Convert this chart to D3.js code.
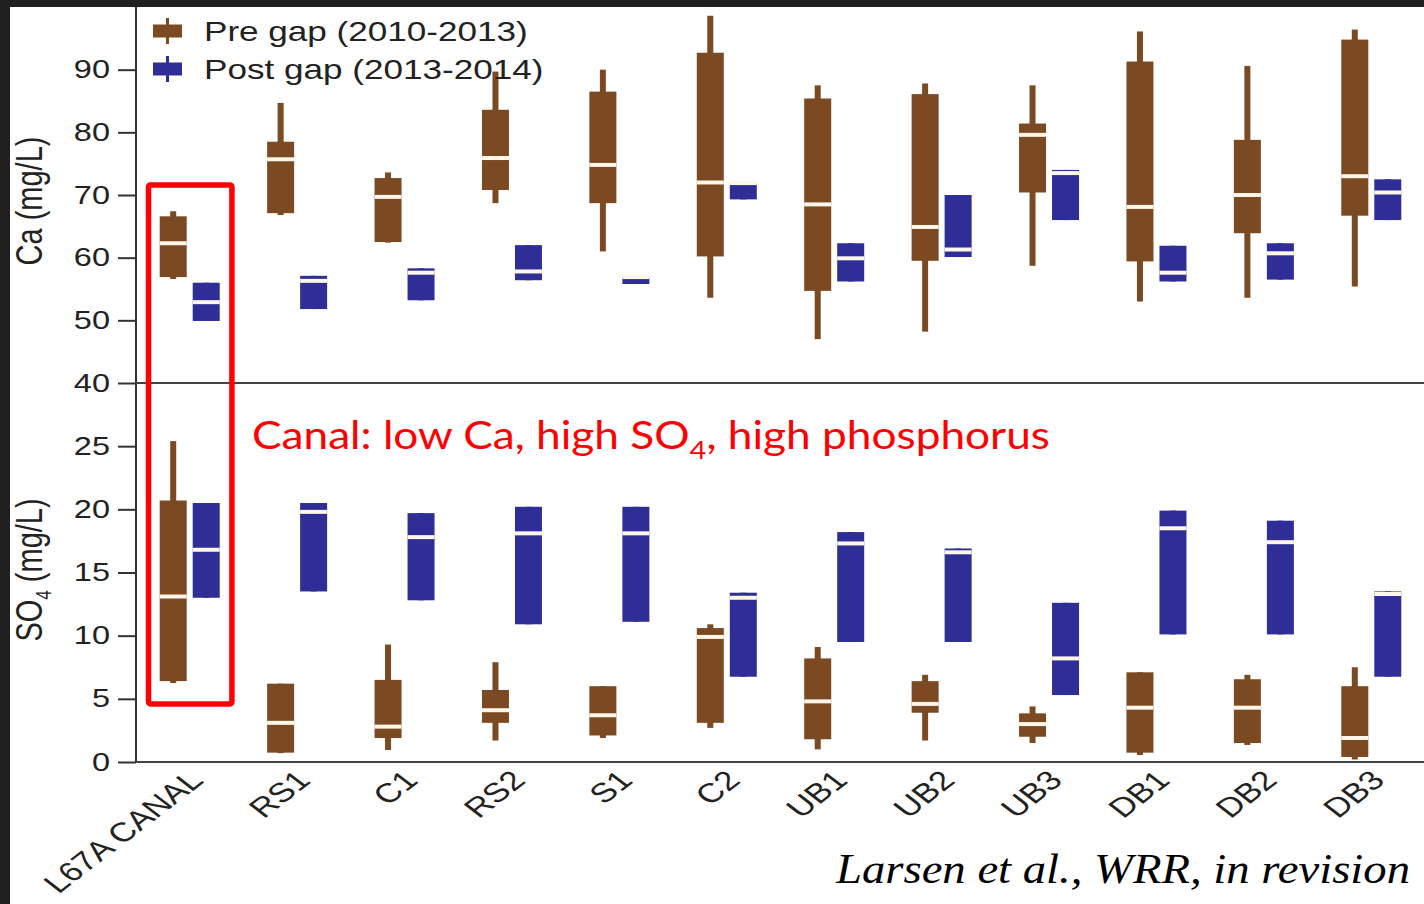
<!DOCTYPE html>
<meta charset="utf-8">
<script src="https://d3js.org/d3.v7.min.js"></script>
<style>
body { margin: 0; background: #1f1f1f; }
svg { display: block; }
text { font-family: "Liberation Sans", Arial, sans-serif; fill: #222; }
</style>
<div id="chart"></div>
<script>
// sites along the x axis
var sites = ["L67A CANAL", "RS1", "C1", "RS2", "S1", "C2", "UB1", "UB2", "UB3", "DB1", "DB2", "DB3"];

// pre gap boxes: [min, q1, median, q3, max]
var caPre = [
  [56.6, 56.9, 62.3, 66.6, 67.4],
  [66.8, 67.1, 75.7, 78.5, 84.7],
  [62.4, 62.5, 69.7, 72.7, 73.6],
  [68.7, 70.8, 75.9, 83.6, 89.7],
  [61.0, 68.7, 74.8, 86.5, 90.0],
  [53.6, 60.2, 72.0, 92.7, 98.6],
  [47.0, 54.7, 68.5, 85.4, 87.5],
  [48.2, 59.5, 64.9, 86.1, 87.8],
  [58.7, 70.4, 79.6, 81.4, 87.5],
  [53.0, 59.4, 68.1, 91.3, 96.1],
  [53.6, 63.9, 70.0, 78.8, 90.6],
  [55.4, 66.7, 73.0, 94.8, 96.4]
];
var so4Pre = [
  [6.25, 6.4, 13.1, 20.7, 25.4],
  [0.7, 0.74, 3.1, 6.2, 6.2],
  [0.95, 1.9, 2.8, 6.5, 9.3],
  [1.7, 3.1, 4.1, 5.7, 7.9],
  [1.9, 2.1, 3.7, 6.0, 6.0],
  [2.7, 3.1, 9.9, 10.6, 10.9],
  [1.0, 1.8, 4.8, 8.2, 9.1],
  [1.7, 3.9, 4.6, 6.4, 6.9],
  [1.5, 2.0, 3.0, 3.85, 4.4],
  [0.55, 0.74, 4.3, 7.1, 7.1],
  [1.35, 1.5, 4.3, 6.55, 6.9],
  [0.2, 0.4, 1.9, 6.0, 7.5]
];

// post gap boxes (no whiskers): [q1, median, q3]
var caPost = [
  [49.9, 52.9, 56.0],
  [51.8, 56.3, 57.1],
  [53.2, 57.6, 58.3],
  [56.4, 57.8, 62.0],
  [55.8, 56.9, 56.9],
  [69.3, 71.9, 71.9],
  [56.2, 59.9, 62.3],
  [60.1, 61.3, 70.0],
  [66.0, 73.5, 74.0],
  [56.2, 57.6, 61.9],
  [56.5, 60.7, 62.3],
  [66.0, 70.4, 72.5]
];
var so4Post = [
  [13.0, 16.8, 20.5],
  [13.5, 19.8, 20.5],
  [12.8, 17.8, 19.7],
  [10.9, 18.1, 20.2],
  [11.1, 18.1, 20.2],
  [6.75, 13.0, 13.4],
  [9.5, 17.3, 18.2],
  [9.5, 16.6, 16.9],
  [5.3, 8.2, 12.6],
  [10.1, 18.5, 19.9],
  [10.1, 17.4, 19.1],
  [6.75, 13.3, 13.5]
];

var caTicks = [40, 50, 60, 70, 80, 90];
var so4Ticks = [0, 5, 10, 15, 20, 25];
var series = ["Pre gap (2010-2013)", "Post gap (2013-2014)"];
var colors = ["#7b4a22", "#2e2e96"];

var W = 1424, H = 904;
var stretch = 1.3;   // source figure was drawn wider than tall
var boxW = 27;

var svg = d3.select("#chart").append("svg")
    .attr("width", W)
    .attr("height", H);

svg.append("rect").attr("width", W).attr("height", H).attr("fill", "#1f1f1f");
svg.append("rect").attr("x", 10).attr("y", 7)
    .attr("width", W - 10).attr("height", H - 7).attr("fill", "#fff");

var x = d3.scaleBand().domain(sites).range([136, 1425]);
var grp = d3.scalePoint().domain(["pre", "post"]).range([-16.5, 16.5]);
var ca = d3.scaleLinear().domain([40, 100]).range([383, 7]);
var so4 = d3.scaleLinear().domain([0, 30]).range([762, 383]);

function expand(d) { return [d[0], d[0], d[1], d[2], d[2]]; }

// one set of boxes for a panel and a period
function drawBoxes(data, y, key, color) {
  var b = svg.append("g").selectAll("g")
    .data(data)
    .enter().append("g")
      .attr("transform", function(d, i) {
        return "translate(" + (x(sites[i]) + x.bandwidth() / 2 + grp(key)) + ",0)";
      });
  // whisker
  b.append("rect")
      .attr("x", -3).attr("width", 6)
      .attr("y", function(d) { return y(d[4]); })
      .attr("height", function(d) { return y(d[0]) - y(d[4]); })
      .attr("fill", color);
  // box
  b.append("rect")
      .attr("x", -boxW / 2).attr("width", boxW)
      .attr("y", function(d) { return y(d[3]); })
      .attr("height", function(d) { return Math.max(1, y(d[1]) - y(d[3])); })
      .attr("fill", color);
  // median
  b.append("rect")
      .attr("x", -boxW / 2).attr("width", boxW)
      .attr("y", function(d) { return y(d[2]) - 2; })
      .attr("height", 4)
      .attr("fill", "#fff6ea");
}

drawBoxes(caPre, ca, "pre", colors[0]);
drawBoxes(caPost.map(expand), ca, "post", colors[1]);
drawBoxes(so4Pre, so4, "pre", colors[0]);
drawBoxes(so4Post.map(expand), so4, "post", colors[1]);

// axes
function yAxis(scale, ticks) {
  var g = svg.append("g")
      .attr("transform", "translate(136,0)")
      .call(d3.axisLeft(scale).tickValues(ticks).tickSize(18).tickPadding(8));
  g.select(".domain").remove();
  g.selectAll(".tick line").attr("stroke", "#333").attr("stroke-width", 2);
  g.selectAll(".tick text")
      .attr("x", -26 / stretch)
      .attr("transform", "scale(" + stretch + ",1)")
      .style("font-size", "25px")
      .attr("fill", "#222");
  g.attr("font-family", null);
}
yAxis(ca, caTicks);
yAxis(so4, so4Ticks);

svg.append("line")
    .attr("x1", 136).attr("x2", 136).attr("y1", 7).attr("y2", so4(0))
    .attr("stroke", "#333").attr("stroke-width", 2);
[ca(40), so4(0)].forEach(function(yy) {
  svg.append("line")
      .attr("x1", 136).attr("x2", W).attr("y1", yy).attr("y2", yy)
      .attr("stroke", "#444").attr("stroke-width", 2);
});

// site labels
svg.append("g").selectAll("text")
  .data(sites)
  .enter().append("text")
    .attr("transform", function(d) {
      return "translate(" + (x(d) + x.bandwidth() / 2 + 15) + ",782) scale(" + stretch + ",1) rotate(-45)";
    })
    .attr("text-anchor", "end")
    .style("font-size", "27px")
    .text(function(d) { return d; });

// axis titles
svg.append("text")
    .attr("transform", "translate(42,201) scale(" + stretch + ",1) rotate(-90)")
    .attr("text-anchor", "middle")
    .style("font-size", "29px")
    .text("Ca (mg/L)");
var so4Title = svg.append("text")
    .attr("transform", "translate(42,570) scale(" + stretch + ",1) rotate(-90)")
    .attr("text-anchor", "middle")
    .style("font-size", "29px");
so4Title.append("tspan").text("SO");
so4Title.append("tspan").attr("dy", 7).style("font-size", "17px").text("4");
so4Title.append("tspan").attr("dy", -7).text(" (mg/L)");

// legend
var leg = svg.append("g").selectAll("g")
  .data(series)
  .enter().append("g")
    .attr("transform", function(d, i) { return "translate(0," + (31 + i * 38) + ")"; });
leg.append("rect")
    .attr("x", 153).attr("y", -6.5).attr("width", 29).attr("height", 13)
    .attr("fill", function(d, i) { return colors[i]; });
leg.append("rect")
    .attr("x", 166).attr("y", -13).attr("width", 3).attr("height", 26)
    .attr("fill", function(d, i) { return colors[i]; });
leg.append("text")
    .attr("transform", "translate(204,10) scale(" + stretch + ",1)")
    .style("font-size", "27px")
    .text(function(d) { return d; });

// canal annotation
var x0 = x(sites[0]);
svg.append("rect")
    .attr("x", x0 + 12.5).attr("y", ca(71.6))
    .attr("width", x.bandwidth() - 24).attr("height", so4(4.6) - ca(71.6))
    .attr("rx", 2)
    .attr("fill", "none").attr("stroke", "#ff0000").attr("stroke-width", 5.5);

var note = svg.append("text")
    .attr("x", 252).attr("y", 449)
    .attr("textLength", 798).attr("lengthAdjust", "spacingAndGlyphs")
    .style("font-family", "Lato, 'Open Sans', sans-serif")
    .style("font-size", "38px")
    .style("fill", "#ff0000");
note.append("tspan").text("Canal: low Ca, high SO");
note.append("tspan").attr("dy", 10).style("font-size", "25px").text("4");
note.append("tspan").attr("dy", -10).text(", high phosphorus");

svg.append("text")
    .attr("x", 836).attr("y", 883)
    .attr("textLength", 574).attr("lengthAdjust", "spacingAndGlyphs")
    .style("font-family", "'Liberation Serif', 'Times New Roman', serif")
    .style("font-style", "italic")
    .style("font-size", "43px")
    .style("fill", "#000")
    .text("Larsen et al., WRR, in revision");
</script>
